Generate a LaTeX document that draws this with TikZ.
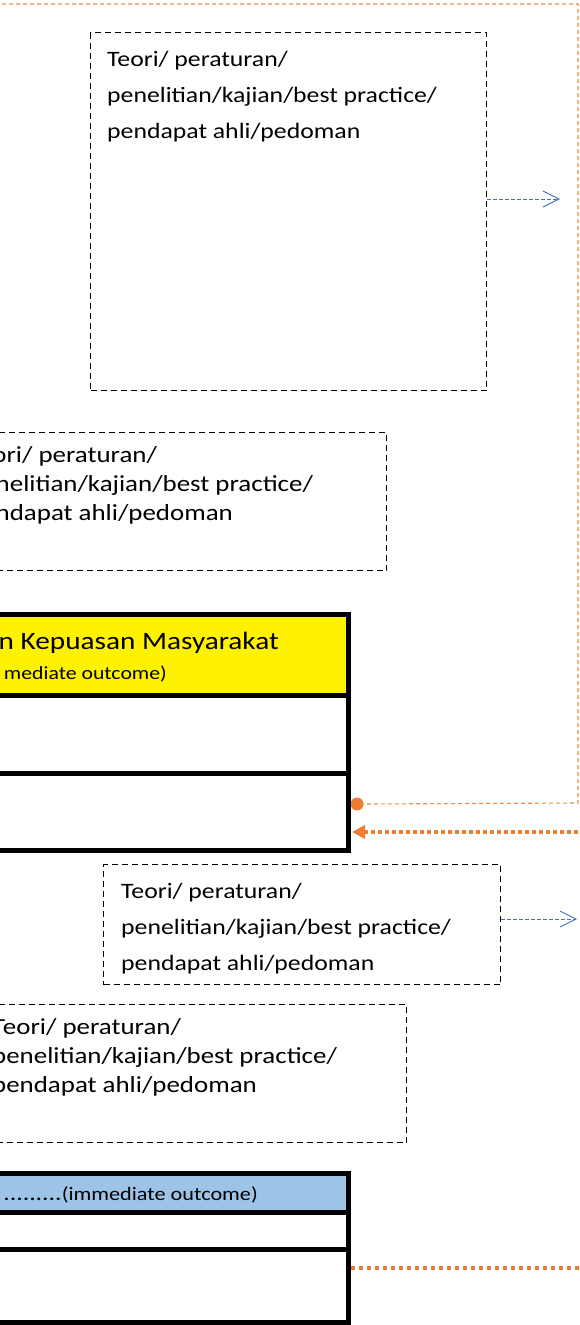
\documentclass[tikz,border=0pt]{standalone}
\usepackage{fontspec}
\setmainfont{Carlito}
\newfontfamily\boxfont[FakeStretch=1.17]{Carlito}
\usetikzlibrary{arrows.meta}
\definecolor{orng}{HTML}{ED7D31}
\definecolor{orngl}{HTML}{F08A4B}
\definecolor{blu}{HTML}{4472C4}
\definecolor{ltblue}{HTML}{9DC3E6}
\tikzset{
  refbox/.style={draw=black, line width=1.3pt, dash pattern=on 6pt off 4pt, inner sep=0pt, anchor=north west},
  reftext/.style={font=\boxfont\fontsize{22}{36}\selectfont, align=left, inner sep=0pt, anchor=base west},
  reftextb/.style={font=\boxfont\fontsize{23}{29}\selectfont, align=left, inner sep=0pt, anchor=base west},
  bluearrow/.style={draw=blu, line width=0.9pt, dash pattern=on 4pt off 2pt, -{Straight Barb[length=16pt,width=16pt,line width=0.9pt]}},
  thinorange/.style={draw=orngl, line width=1.1pt, dash pattern=on 4pt off 3pt},
  tbl/.style={draw=black, line width=5pt},
}
\begin{document}
\begin{tikzpicture}[x=1pt,y=-1pt]
\useasboundingbox (0,0) rectangle (579,1325);
\clip (0,0) rectangle (579,1325);

% ---- top box
\node[refbox, minimum width=396pt, minimum height=358pt] (b1) at (90,32) {};
\node[reftext] (t1) at (107,138) {Teori/ peraturan/\\penelitian/kajian/best practice/\\pendapat ahli/pedoman};
\coordinate (a1) at (560,199);
\draw[bluearrow] (b1.east |- a1) -- (a1);

% ---- orange thin connector
\coordinate (o0) at (-5,4);
\coordinate (o1) at (578,4);
\coordinate (o2) at (578,803);
\node[circle, fill=orng, inner sep=0pt, minimum size=13pt] (dot) at (357,804) {};
\draw[thinorange] (o0) -- (o1) -- (o2) -- (dot.center -| dot.east);

% ---- second box
\node[refbox, minimum width=400pt, minimum height=138pt] (b2) at (-14,432) {};
\node[reftextb] (t2) at (-32,520) {Teori/ peraturan/\\penelitian/kajian/best practice/\\pendapat ahli/pedoman};

% ---- yellow table
\fill[yellow] (-10,614) rectangle (348,695);
\node[font=\boxfont\fontsize{25}{28}\selectfont, anchor=base east, inner sep=0pt] (y1) at (279,649) {n Kepuasan Masyarakat};
\node[font=\boxfont\fontsize{18.6}{22}\selectfont, anchor=base east, inner sep=0pt] (y2) at (167,679) {mediate outcome)};
\draw[tbl] (-10,614) -- (348,614) -- (348,850) -- (-10,850);
\draw[tbl] (-10,695) -- (348,695);
\draw[tbl] (-10,773) -- (348,773);
\coordinate (ar0) at (585,832);
\coordinate (ar1) at (352,832);
\draw[orng, line width=4pt, dash pattern=on 4pt off 3pt, -{Triangle[length=13pt,width=13pt]}] (ar0) -- (ar1);

% ---- third box
\node[refbox, minimum width=397pt, minimum height=120pt] (b3) at (103,864) {};
\node[reftext] (t3) at (121,970) {Teori/ peraturan/\\penelitian/kajian/best practice/\\pendapat ahli/pedoman};
\coordinate (a2) at (577,919);
\draw[bluearrow] (b3.east |- a2) -- (a2);

% ---- fourth box
\node[refbox, minimum width=420pt, minimum height=138pt] (b4) at (-14,1004) {};
\node[reftextb] (t4) at (-8,1092) {Teori/ peraturan/\\penelitian/kajian/best practice/\\pendapat ahli/pedoman};

% ---- blue table
\fill[ltblue] (-10,1173) rectangle (348,1212);
\node[anchor=base east, inner sep=0pt] (bl) at (258,1200) {{\boxfont\fontsize{22}{24}\selectfont .........}{\boxfont\fontsize{19}{22}\selectfont (immediate outcome)}};
\draw[tbl] (-10,1173) -- (348,1173) -- (348,1322) -- (-10,1322);
\draw[tbl] (-10,1212) -- (348,1212);
\draw[tbl] (-10,1249) -- (348,1249);
\coordinate (d0) at (351,1268);
\coordinate (d1) at (585,1268);
\draw[orng, line width=3.5pt, dash pattern=on 3.5pt off 4.5pt] (d0) -- (d1);
\end{tikzpicture}
\end{document}
